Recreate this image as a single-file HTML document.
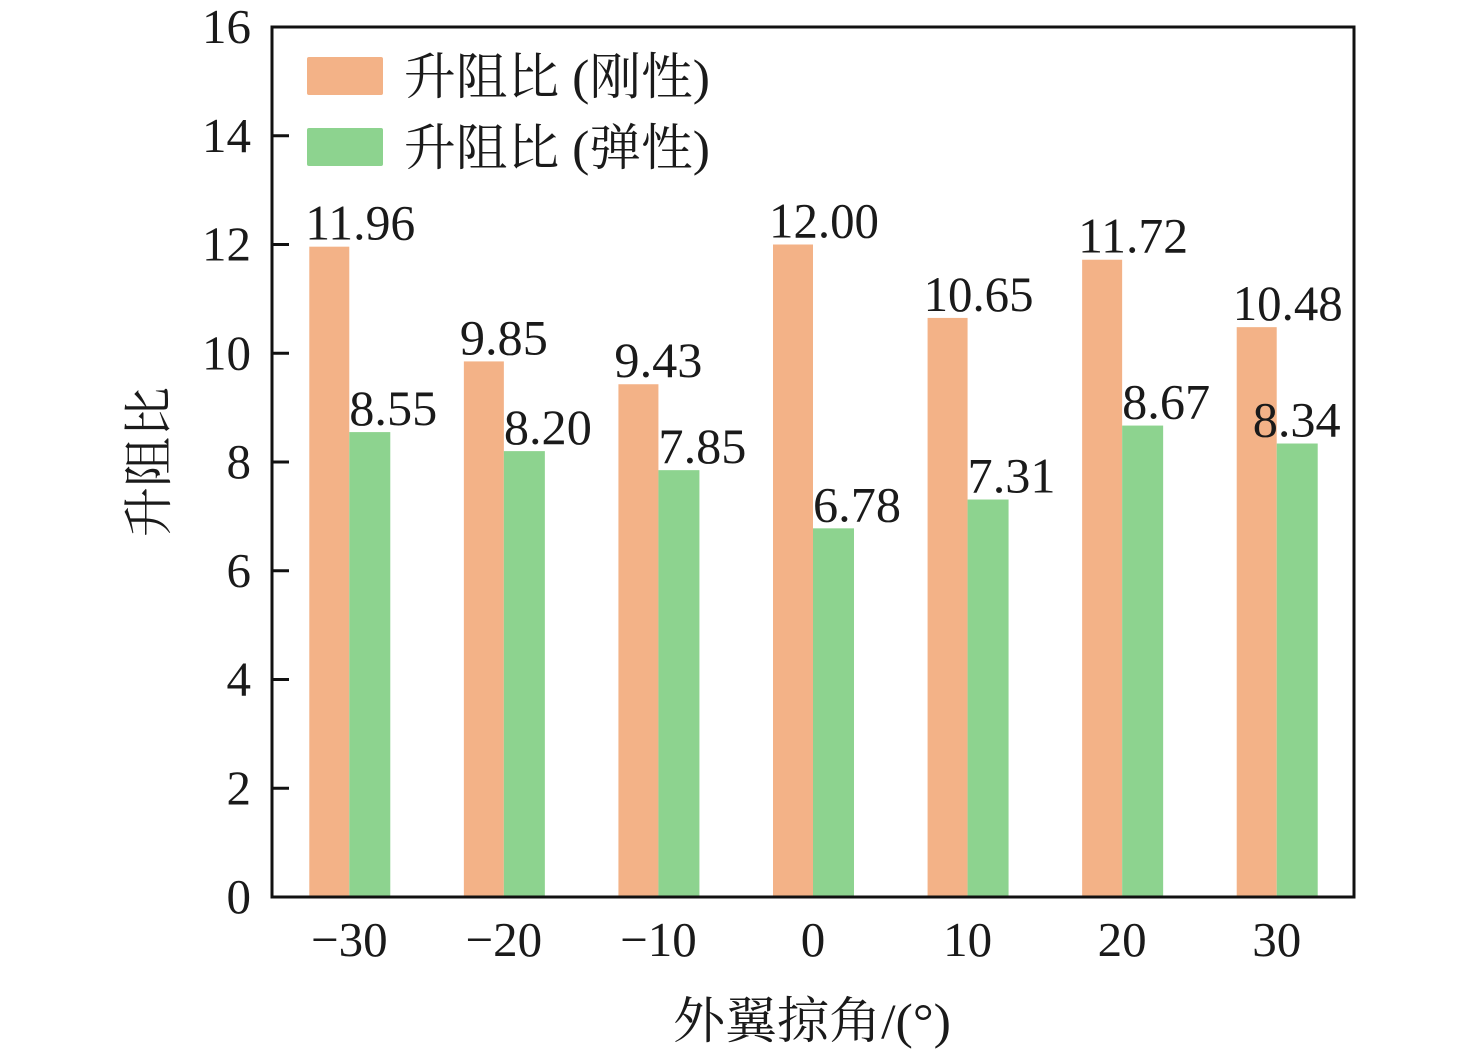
<!DOCTYPE html>
<html><head><meta charset="utf-8"><style>
html,body{margin:0;padding:0;background:#fff;}
svg text{font-family:"Liberation Serif","Noto Serif CJK SC",serif;fill:#1a1a1a;}
</style></head><body>
<svg id="chart" width="1476" height="1056" xmlns="http://www.w3.org/2000/svg"></svg>
<script>
const categories = ["\u221230","\u221220","\u221210","0","10","20","30"];
const rigidValues = [11.96, 9.85, 9.43, 12.00, 10.65, 11.72, 10.48];
const elasticValues = [8.55, 8.20, 7.85, 6.78, 7.31, 8.67, 8.34];
const yTicks = [0,2,4,6,8,10,12,14,16];

const NS="http://www.w3.org/2000/svg";
const svg=document.getElementById('chart');
const L=272,R=1354,T=27,B=897,yMax=16;
const y=v=>B-(v/yMax)*(B-T);
const band=(R-L)/categories.length;
const xc=i=>L+band*(i+0.5);
function mk(tag,attrs,parent){const e=document.createElementNS(NS,tag);for(const k in attrs)e.setAttribute(k,attrs[k]);(parent||svg).appendChild(e);return e;}

const barW=40;
categories.forEach((c,i)=>{
  const cx=xc(i);
  let r=mk('rect',{x:cx-barW,y:y(rigidValues[i]),width:barW,height:B-y(rigidValues[i]),fill:'#F3B287'});
  
  
  let g=mk('rect',{x:cx,y:y(elasticValues[i]),width:barW+1,height:B-y(elasticValues[i]),fill:'#8DD38F'});
  
  
  let t1=mk('text',{x:cx-barW-4,y:y(rigidValues[i])-7,'font-size':50,textLength:110,lengthAdjust:'spacingAndGlyphs'});
  t1.textContent=rigidValues[i].toFixed(2);
  if(rigidValues[i]<10){t1.setAttribute('textLength',88);}
  
  
  const last=i===categories.length-1;
  let t2=mk('text',{x:last?cx-24:cx,y:y(elasticValues[i])-7,'font-size':50,textLength:88,lengthAdjust:'spacingAndGlyphs'});
  t2.textContent=elasticValues[i].toFixed(2);
  
  
  let xl=mk('text',{x:cx,y:956,'font-size':49,'text-anchor':'middle'});
  xl.textContent=c;
  
  
});
yTicks.forEach(v=>{
  let tk=mk('line',{x1:L,x2:L+17,y1:y(v),y2:y(v),stroke:'#111','stroke-width':3});
  
  
  let tl=mk('text',{x:251,y:y(v)+16,'font-size':49,'text-anchor':'end'});
  tl.textContent=v;
  
  
});
let frame=mk('rect',{x:L,y:T,width:R-L,height:B-T,fill:'none',stroke:'#111','stroke-width':3});



const legend=[["升阻比 (刚性)","#F3B287",57],["升阻比 (弹性)","#8DD38F",128]];
legend.forEach((l,i)=>{
  let r=mk('rect',{x:307,y:l[2],width:76,height:38,rx:2,fill:l[1]});
  
  
  let t=mk('text',{x:404,y:l[2]+37,'font-size':50,textLength:306,lengthAdjust:'spacingAndGlyphs'});
  t.textContent=l[0];
  
  
});
let yt=mk('text',{x:0,y:0,'font-size':50,'text-anchor':'middle',transform:'translate(166,462) rotate(-90)'});
yt.textContent='升阻比';


let xt=mk('text',{x:812,y:1038,'font-size':50,'text-anchor':'middle',textLength:278,lengthAdjust:'spacingAndGlyphs'});
xt.textContent='外翼掠角/(°)';


</script>
</body></html>
